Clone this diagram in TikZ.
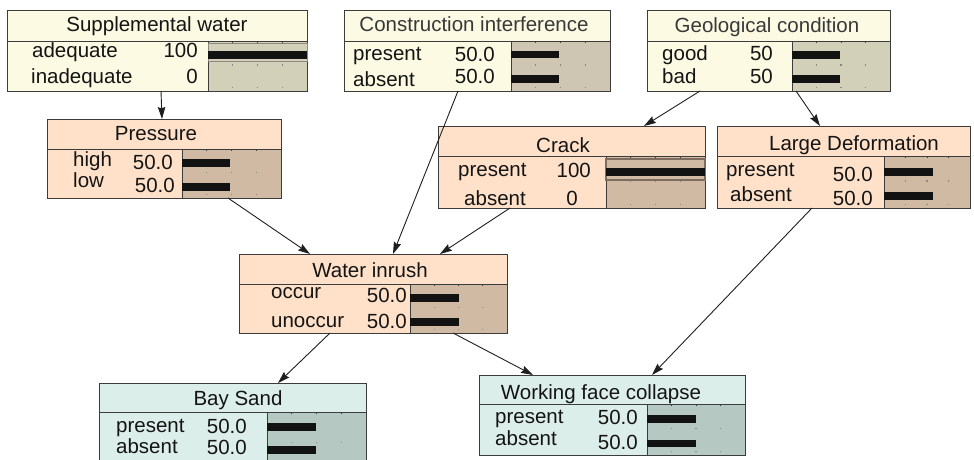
\documentclass[tikz,border=0pt]{standalone}
\usepackage{fontspec}
\setmainfont{Liberation Sans}
\usetikzlibrary{arrows.meta}
\definecolor{creamA}{HTML}{FDFAE3}
\definecolor{creamB}{HTML}{D2D0B8}
\definecolor{creamC}{HTML}{CEC5B2}
\definecolor{peachA}{HTML}{FFE1C9}
\definecolor{peachB}{HTML}{D1BAA3}
\definecolor{cyanA}{HTML}{DBEEE9}
\definecolor{cyanB}{HTML}{B5C9C2}
\definecolor{edgec}{HTML}{3C3C3C}
\definecolor{bandc}{HTML}{7E6C5E}
\definecolor{dotc}{HTML}{8A8A80}
\newcommand\netbox[9]{%
  \node[boxnode, fill=#8, minimum width={(#4-#2)*1pt}, minimum height={(#5-#3)*1pt}] (#1) at (#2,#3) {};
  \fill[#9] (#7,#6) rectangle (#4,#5);
  \foreach \k in {1,2,3}{%
    \fill[dotc] ({#7+\k*(#4-#7)/4-0.6},{#6+0.47*(#5-#6)}) rectangle +(1.2,1.2);
    \fill[dotc] ({#7+\k*(#4-#7)/4-0.6},{#5-4}) rectangle +(1.2,1.2);
    \fill[edgec] ({#7+\k*(#4-#7)/4-0.5},#6) rectangle +(1,2);
  }
  \draw[inner] (#2,#6) -- (#4+1,#6);
  \draw[inner] (#7,#6) -- (#7,#5);
  \draw[edge] (#1.north west) rectangle (#1.south east);
}
\begin{document}
\begin{tikzpicture}[x=1pt,y=-1pt,
  font=\fontsize{20.5}{24}\selectfont,
  boxnode/.style={anchor=north west, inner sep=0pt, outer sep=0pt},
  inner/.style={draw=edgec, line width=0.9pt},
  edge/.style={draw=edgec, line width=1pt},
  ttl/.style={anchor=base, inner sep=0pt, text=black!92},
  ttlg/.style={anchor=base, inner sep=0pt, text=black!78},
  lbl/.style={anchor=base west, inner sep=0pt, text=black!92},
  val/.style={anchor=base east, inner sep=0pt, text=black!92},
  bar/.style={fill=black!93},
  band/.style={draw=bandc, line width=1.4pt},
  conn/.style={draw=black!88, line width=0.9pt, -{Stealth[length=12pt,width=7.5pt,inset=1.5pt]}}]
\path[use as bounding box] (0,0) rectangle (974,460);
\clip (0,0) rectangle (974,460);
\fill[white] (0,0) rectangle (974,460);

% Supplemental water
\netbox{sw}{7}{11}{307}{91}{41}{208}{creamA}{creamB}
\draw[draw=dotc, line width=0.8pt] (208,43) rectangle (307,61);
\fill[bar] (208,51) rectangle (307,59);
\node[ttl] (swt) at (157,32) {Supplemental water};
\node[lbl] (swl1) at (32,57) {adequate};
\node[lbl] (swl2) at (31,83) {inadequate};
\node[val] (swv1) at (198,57) {100};
\node[val] (swv2) at (198,83) {0};

% Construction interference
\netbox{ci}{344}{11}{610}{91}{41}{511}{creamA}{creamC}
\fill[bar] (511,51) rectangle (559,58);
\fill[bar] (511,75) rectangle (559,83);
\node[ttlg] (cit) at (474,32) {Construction interference};
\node[lbl] (cil1) at (353,61) {present};
\node[lbl] (cil2) at (353,86) {absent};
\node[val] (civ1) at (495,62) {50.0};
\node[val] (civ2) at (495,84) {50.0};

% Geological condition
\netbox{gc}{647}{11}{890}{91}{41}{792}{creamA}{creamB}
\fill[bar] (792,51) rectangle (840,59);
\fill[bar] (792,75) rectangle (840,83);
\node[ttlg] (gct) at (767,33) {Geological condition};
\node[lbl] (gcl1) at (662,60) {good};
\node[lbl] (gcl2) at (662,83) {bad};
\node[val] (gcv1) at (773,60) {50};
\node[val] (gcv2) at (773,83) {50};

% Pressure
\netbox{pr}{47}{119}{281}{198}{149}{182}{peachA}{peachB}
\fill[bar] (182,159) rectangle (230,167);
\fill[bar] (182,183) rectangle (230,191);
\node[ttl] (prt) at (156,140) {Pressure};
\node[lbl] (prl1) at (73,166) {high};
\node[lbl] (prl2) at (73,187) {low};
\node[val] (prv1) at (173,169) {50.0};
\node[val] (prv2) at (175,192) {50.0};

% Crack
\netbox{cr}{438}{126}{705}{208}{156}{606}{peachA}{peachB}
\draw[band] (606,159) rectangle (705,180);
\fill[bar] (606,168) rectangle (705,176);
\node[ttl] (crt) at (563,152) {Crack};
\node[lbl] (crl1) at (458,176) {present};
\node[lbl] (crl2) at (464,205) {absent};
\node[val] (crv1) at (591,177) {100};
\node[val] (crv2) at (578,205) {0};

% Large Deformation
\netbox{ld}{717}{126}{970}{208}{156}{884}{peachA}{peachB}
\fill[bar] (884,168) rectangle (933,176);
\fill[bar] (884,192) rectangle (933,200);
\node[ttl] (ldt) at (854,150) {Large Deformation};
\node[lbl] (ldl1) at (726,176) {present};
\node[lbl] (ldl2) at (730,201) {absent};
\node[val] (ldv1) at (873,181) {50.0};
\node[val] (ldv2) at (873,205) {50.0};

% Water inrush
\netbox{wi}{239}{254}{507}{333}{284}{410}{peachA}{peachB}
\fill[bar] (410,294) rectangle (459,302);
\fill[bar] (410,318) rectangle (459,326);
\node[ttl] (wit) at (370,277) {Water inrush};
\node[lbl] (wil1) at (271,298) {occur};
\node[lbl] (wil2) at (271,327) {unoccur};
\node[val] (wiv1) at (407,302) {50.0};
\node[val] (wiv2) at (407,328) {50.0};

% Bay Sand
\netbox{bs}{99}{383}{366}{475}{412}{267}{cyanA}{cyanB}
\fill[bar] (267,423) rectangle (316,431);
\fill[bar] (267,446) rectangle (316,454);
\node[ttl] (bst) at (238,405) {Bay Sand};
\node[lbl] (bsl1) at (116,432) {present};
\node[lbl] (bsl2) at (116,453) {absent};
\node[val] (bsv1) at (247,433) {50.0};
\node[val] (bsv2) at (247,454) {50.0};

% Working face collapse
\netbox{wfc}{479}{375}{745}{455}{404}{647}{cyanA}{cyanB}
\fill[bar] (647,415) rectangle (696,423);
\fill[bar] (647,440) rectangle (696,447);
\node[ttl] (wft) at (601,399) {Working face collapse};
\node[lbl] (wfl1) at (495,423) {present};
\node[lbl] (wfl2) at (495,445) {absent};
\node[val] (wfv1) at (638,424) {50.0};
\node[val] (wfv2) at (638,449) {50.0};

% connectors
\draw[conn] ([xshift=154pt]sw.south west) -- ([xshift=115pt]pr.north west);
\draw[conn] ([xshift=181pt]pr.south west) -- ([xshift=71pt]wi.north west);
\draw[conn] ([xshift=114pt]ci.south west) -- ([xshift=154pt]wi.north west);
\draw[conn] ([xshift=72pt]cr.south west) -- ([xshift=201pt]wi.north west);
\draw[conn] ([xshift=53pt]gc.south west) -- ([xshift=206pt]cr.north west);
\draw[conn] ([xshift=149pt]gc.south west) -- ([xshift=103pt]ld.north west);
\draw[conn] ([xshift=95pt]ld.south west) -- ([xshift=173pt]wfc.north west);
\draw[conn] ([xshift=91pt]wi.south west) -- ([xshift=179pt]bs.north west);
\draw[conn] ([xshift=214pt]wi.south west) -- ([xshift=54pt]wfc.north west);
\end{tikzpicture}
\end{document}
